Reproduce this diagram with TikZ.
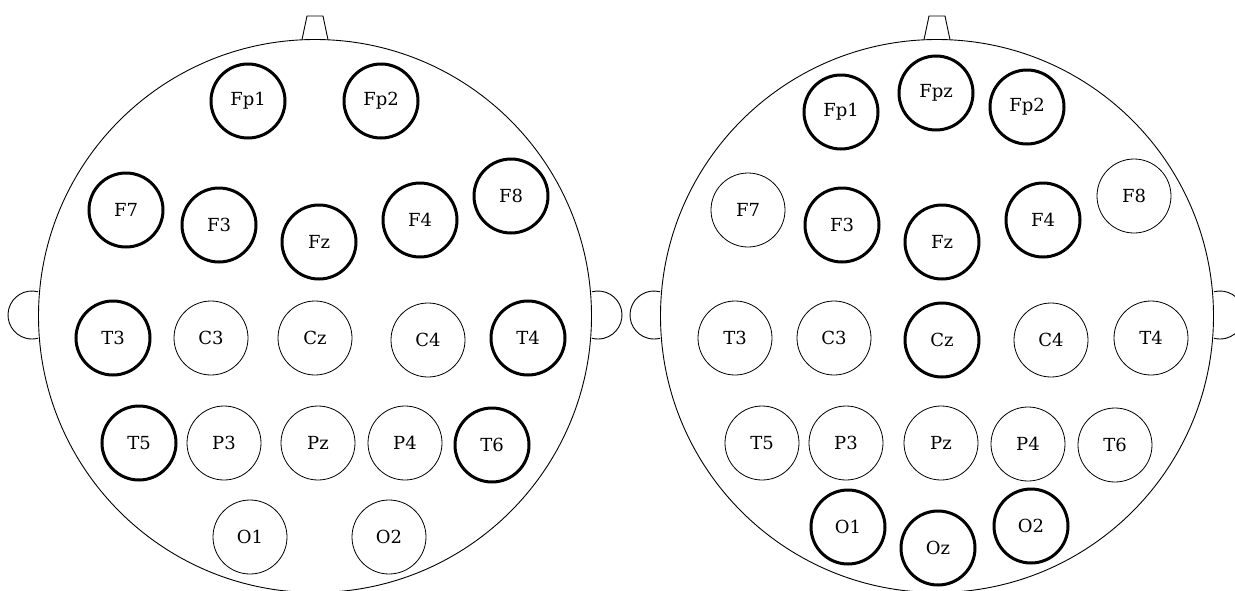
\documentclass[tikz,border=0pt]{standalone}
\usepackage{fontspec}
\setmainfont{DejaVu Serif}
\begin{document}
\begin{tikzpicture}[x=1pt,y=-1pt,
  el/.style={circle, draw, line width=0.8pt, minimum size=74pt, inner sep=0pt,
             font=\fontsize{18}{18}\selectfont},
  act/.style={el, line width=3pt},
  outline/.style={line width=0.9pt}]
\useasboundingbox (0,0) rectangle (1235,590);
\clip (0,0) rectangle (1235,590);
% ---------- left head ----------
\draw[outline] (315,316) circle (276.5pt);
\draw[outline] (302,39.7) -- (307,16) -- (323,16) -- (328,39.7);
\draw[outline] (32,315) ++(75.5:24pt) arc[start angle=75.5,end angle=284.5,radius=24pt];
\draw[outline] (598,315) ++(104.5:24pt) arc[start angle=104.5,end angle=-104.5,radius=24pt];
\node[act] (lFp1) at (248,101) {Fp1};
\node[act] (lFp2) at (381,101) {Fp2};
\node[act] (lF7) at (126,210) {F7};
\node[act] (lF3) at (219,225) {F3};
\node[act] (lFz) at (319,242) {Fz};
\node[act] (lF4) at (420,220) {F4};
\node[act] (lF8) at (511,196) {F8};
\node[act] (lT3) at (113,338) {T3};
\node[el]  (lC3) at (211,338) {C3};
\node[el]  (lCz) at (315,338) {Cz};
\node[el]  (lC4) at (428,340) {C4};
\node[act] (lT4) at (528,338) {T4};
\node[act] (lT5) at (139,443) {T5};
\node[el]  (lP3) at (224,443) {P3};
\node[el]  (lPz) at (318,443) {Pz};
\node[el]  (lP4) at (405,443) {P4};
\node[act] (lT6) at (492,445) {T6};
\node[el]  (lO1) at (250,537) {O1};
\node[el]  (lO2) at (389,537) {O2};
% ---------- right head ----------
\draw[outline] (937,316) circle (276.5pt);
\draw[outline] (924,39.7) -- (929,16) -- (945,16) -- (950,39.7);
\draw[outline] (654,315) ++(75.5:24pt) arc[start angle=75.5,end angle=284.5,radius=24pt];
\draw[outline] (1220,315) ++(104.5:24pt) arc[start angle=104.5,end angle=-104.5,radius=24pt];
\node[act] (rFp1) at (841,112) {Fp1};
\node[act] (rFpz) at (936,93) {Fpz};
\node[act] (rFp2) at (1027,107) {Fp2};
\node[el]  (rF7) at (748,210) {F7};
\node[act] (rF3) at (842,225) {F3};
\node[act] (rFz) at (942,242) {Fz};
\node[act] (rF4) at (1043,220) {F4};
\node[el]  (rF8) at (1134,196) {F8};
\node[el]  (rT3) at (735,338) {T3};
\node[el]  (rC3) at (834,338) {C3};
\node[act] (rCz) at (942,340) {Cz};
\node[el]  (rC4) at (1051,340) {C4};
\node[el]  (rT4) at (1151,338) {T4};
\node[el]  (rT5) at (762,443) {T5};
\node[el]  (rP3) at (846,443) {P3};
\node[el]  (rPz) at (941,443) {Pz};
\node[el]  (rP4) at (1028,444) {P4};
\node[el]  (rT6) at (1115,445) {T6};
\node[act] (rO1) at (848,527) {O1};
\node[act] (rOz) at (938,548) {Oz};
\node[act] (rO2) at (1031,526) {O2};
\end{tikzpicture}
\end{document}
